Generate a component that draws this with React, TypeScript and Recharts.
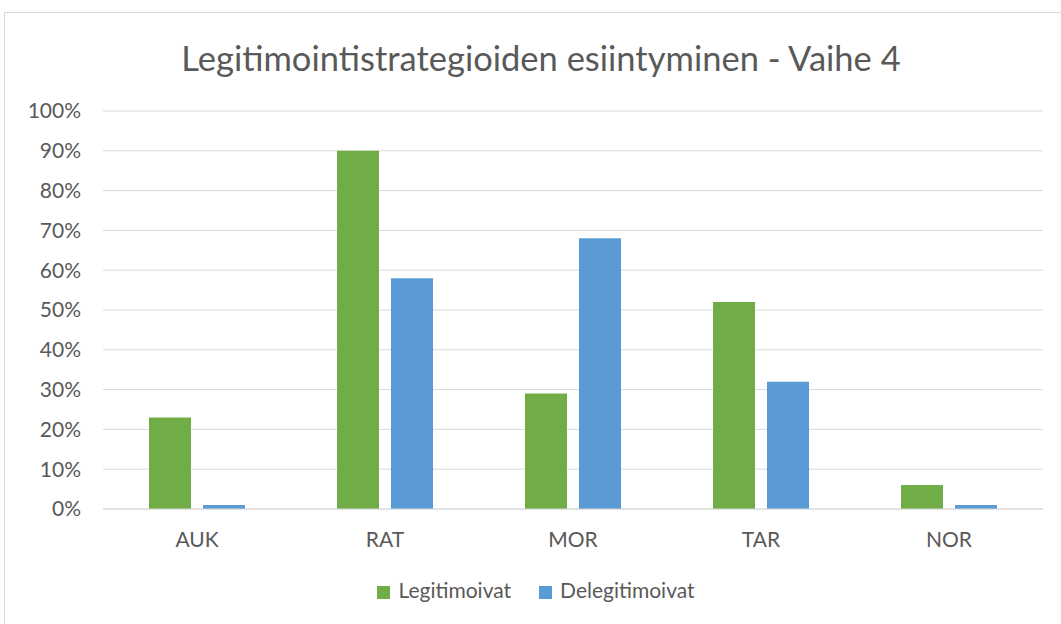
import { Bar, BarChart, CartesianGrid, Legend, XAxis, YAxis } from "recharts";

const categories = ["AUK", "RAT", "MOR", "TAR", "NOR"];
const legitimoivat = [23, 90, 29, 52, 6];
const delegitimoivat = [1, 58, 68, 32, 1];
const yTicks = [0, 10, 20, 30, 40, 50, 60, 70, 80, 90, 100];
const seriesOrder = ["Legitimoivat", "Delegitimoivat"];

const data = categories.map((name, i) => ({
  name,
  Legitimoivat: legitimoivat[i],
  Delegitimoivat: delegitimoivat[i],
}));

const font = "Lato, 'Open Sans', sans-serif";
const textColor = "#595959";

export default function App() {
  return (
    <div
      style={{
        position: "absolute",
        left: 0,
        top: 0,
        width: 1061,
        height: 624,
        background: "#fff",
        overflow: "hidden",
        fontFamily: font,
      }}
    >
      <div
        style={{
          position: "absolute",
          left: 4,
          top: 12,
          width: 1080,
          height: 640,
          border: "1px solid #d9d9d9",
        }}
      />
      <div
        style={{
          position: "absolute",
          left: 0,
          top: 37,
          width: 1082,
          textAlign: "center",
          fontSize: 34.5,
          color: textColor,
          lineHeight: "42px",
        }}
      >
        Legitimointistrategioiden esiintyminen - Vaihe 4
      </div>
      <div style={{ position: "absolute", left: 0, top: 0 }}>
        <BarChart
          width={1061}
          height={624}
          data={data}
          margin={{ top: 111, right: 18, bottom: 60, left: 0 }}
          barCategoryGap={46}
          barGap={12}
        >
          <CartesianGrid vertical={false} stroke="#d9d9d9" />
          <XAxis
            dataKey="name"
            axisLine={{ stroke: "#d9d9d9" }}
            tickLine={false}
            tickMargin={17}
            tick={{ fill: textColor, fontSize: 21, fontFamily: font }}
          />
          <YAxis
            width={103}
            domain={[0, 100]}
            ticks={yTicks}
            interval={0}
            axisLine={false}
            tickLine={false}
            tickSize={0}
            tickMargin={22}
            tickFormatter={(v) => `${v}%`}
            tick={{ fill: textColor, fontSize: 21, fontFamily: font }}
          />
          <Legend
            verticalAlign="bottom"
            align="center"
            iconType="square"
            iconSize={13}
            itemSorter={(item) => seriesOrder.indexOf(String(item.value))}
            wrapperStyle={{ top: 577, left: 0, width: 1082, fontSize: 21, fontFamily: font }}
            formatter={(value, _entry, index) => (
              <span
                style={{
                  color: textColor,
                  marginLeft: 4,
                  marginRight: index === 0 ? 18 : 0,
                }}
              >
                {value}
              </span>
            )}
          />
          <Bar dataKey="Legitimoivat" fill="#70AD47" isAnimationActive={false} />
          <Bar dataKey="Delegitimoivat" fill="#5B9BD5" isAnimationActive={false} />
        </BarChart>
      </div>
    </div>
  );
}
